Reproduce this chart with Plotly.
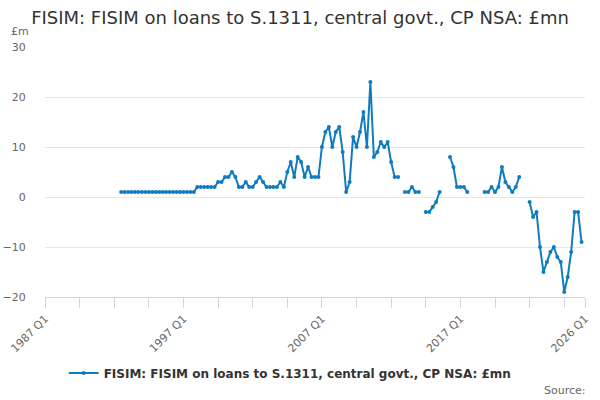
import plotly.graph_objects as go

# Quarterly series, first observation 1992 Q3, last 2025 Q4 (None = missing)
start_year, start_q = 1992, 3
values = [
    1, 1, 1, 1, 1, 1, 1, 1, 1, 1, 1, 1, 1, 1, 1, 1, 1, 1, 1, 1, 1, 1,
    2, 2, 2, 2, 2, 2, 3, 3, 4, 4, 5, 4, 2, 2, 3, 2, 2, 3, 4, 3,
    2, 2, 2, 2, 3, 2, 5, 7, 4, 8, 7, 4, 6, 4, 4, 4,
    10, 13, 14, 10, 13, 14, 9, 1, 3, 12, 10, 13, 17, 10, 23, 8, 9, 11, 10, 11, 7, 4, 4,
    None, 1, 1, 2, 1, 1, None, -3, -3, -2, -1, 1, None, None,
    8, 6, 2, 2, 2, 1, None, None, None, None,
    1, 1, 2, 1, 2, 6, 3, 2, 1, 2, 4, None, None,
    -1, -4, -3, -10, -15, -13, -11, -10, -12, -13, -19, -16, -11, -3, -3, -9,
]

axis_start_year = 1987
axis_end_label = "2026 Q1"
label_years = [1987, 1997, 2007, 2017]
series_name = "FISIM: FISIM on loans to S.1311, central govt., CP NSA: £mn"

def qindex(year, q):
    return (year - axis_start_year) * 4 + (q - 1)

first = qindex(start_year, start_q)
xs = list(range(first, first + len(values)))
labels = [f"{axis_start_year + i // 4} Q{i % 4 + 1}" for i in xs]
end_idx = qindex(int(axis_end_label[:4]), int(axis_end_label[-1]))

tickvals = list(range(0, end_idx, 10)) + [end_idx]
label_map = {qindex(y, 1): f"{y} Q1" for y in label_years}
label_map[end_idx] = axis_end_label
ticktext = [label_map.get(v, "") for v in tickvals]

color = "#0f7cc0"
fig = go.Figure()
fig.add_trace(go.Scatter(
    x=xs, y=values, text=labels, mode="lines+markers", name=series_name,
    line=dict(color=color, width=2), marker=dict(color=color, size=4),
    connectgaps=False, hovertemplate="%{text}: %{y}<extra></extra>",
))

fig.update_layout(
    width=600, height=400,
    margin=dict(l=45, r=15, t=47, b=103),
    paper_bgcolor="white", plot_bgcolor="white",
    font=dict(family="DejaVu Sans", color="#333333"),
    title=dict(text="FISIM: FISIM on loans to S.1311, central govt., CP NSA: £mn",
               x=0.5, xanchor="center", y=0.955, yanchor="middle",
               font=dict(size=18, color="#333333")),
    showlegend=True,
    legend=dict(orientation="h", x=0.454, xanchor="center", y=-0.304, yanchor="middle",
                font=dict(size=12, color="#333333", weight="bold")),
)
fig.update_xaxes(
    range=[0, end_idx], tickmode="array", tickvals=tickvals, ticktext=ticktext,
    showgrid=False, zeroline=False, showline=True, linecolor="#ccd6eb", linewidth=1,
    ticks="outside", ticklen=10, tickcolor="#ccd6eb", tickwidth=1,
    tickangle=-45, tickfont=dict(size=11, color="#666666"), automargin=False,
)
fig.update_yaxes(
    range=[-20, 30], tickmode="linear", tick0=-20, dtick=10,
    showgrid=True, gridcolor="#e6e6e6", gridwidth=1, zeroline=False, showline=False,
    ticks="outside", ticklen=16, tickcolor="rgba(0,0,0,0)",
    tickfont=dict(size=11, color="#666666"), automargin=False,
)
fig.add_annotation(text="£m", xref="paper", yref="paper", x=-0.046, y=1.06,
                   xanchor="center", yanchor="middle", showarrow=False,
                   font=dict(size=11, color="#666666"))
fig.add_annotation(text="Source:", xref="paper", yref="paper", x=1.006, y=-0.372,
                   xanchor="right", yanchor="middle", showarrow=False,
                   font=dict(size=11, color="#666666"))

fig.write_html("out.html", config={"displayModeBar": False},
               post_script="document.body.style.margin='0';")
